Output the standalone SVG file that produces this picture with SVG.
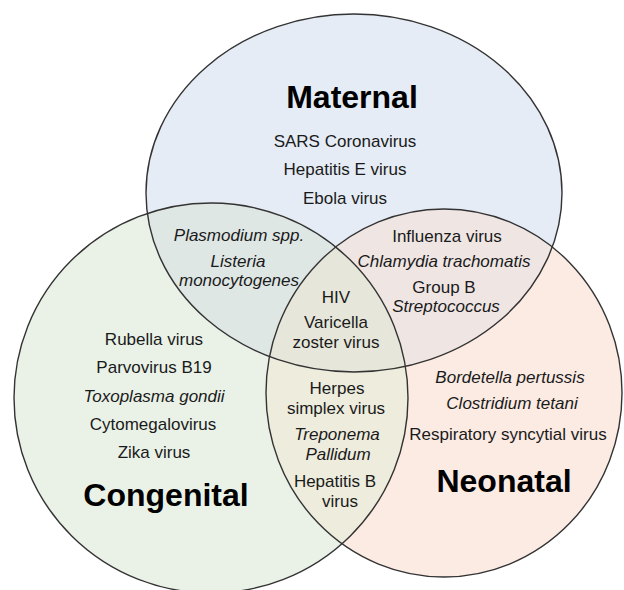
<svg xmlns="http://www.w3.org/2000/svg" xmlns:xlink="http://www.w3.org/1999/xlink" width="624" height="590" viewBox="0 0 624 590">
<style>
.outline{fill:none;stroke:#333;stroke-width:1.4}
text{font-family:"Liberation Sans",Arial,sans-serif;font-size:17px;fill:#1a1a1a;text-anchor:middle}
.it{font-style:italic}
.title{font-weight:bold;font-size:32px;fill:#000}
</style>
<defs>
<ellipse id="eT" cx="354" cy="193" rx="208" ry="179"/>
<ellipse id="eL" cx="211" cy="398" rx="197" ry="195"/>
<ellipse id="eR" cx="444" cy="393" rx="178" ry="184"/>
<clipPath id="cT"><use xlink:href="#eT"/></clipPath>
<clipPath id="cL"><use xlink:href="#eL"/></clipPath>
<clipPath id="cR"><use xlink:href="#eR"/></clipPath>
</defs>
<rect width="624" height="590" fill="#fff"/>
<g id="region-fills">
<use xlink:href="#eT" fill="#E5ECF5"/>
<use xlink:href="#eL" fill="#EAF2E8"/>
<use xlink:href="#eR" fill="#FBEBE3"/>
<g clip-path="url(#cT)"><use xlink:href="#eL" fill="#DFE7E5"/><use xlink:href="#eR" fill="#EFE6E4"/></g>
<g clip-path="url(#cL)"><use xlink:href="#eR" fill="#EDECDD"/></g>
<g clip-path="url(#cT)"><g clip-path="url(#cL)"><use xlink:href="#eR" fill="#E6E7DA"/></g></g>
</g>
<g id="maternal">
<use xlink:href="#eT" class="outline"/>
<text class="title" x="352" y="108">Maternal</text>
<text x="345" y="147">SARS Coronavirus</text>
<text x="345" y="175">Hepatitis E virus</text>
<text x="345" y="204">Ebola virus</text>
</g>
<g id="congenital">
<use xlink:href="#eL" class="outline"/>
<text x="154" y="345">Rubella virus</text>
<text x="154" y="373">Parvovirus B19</text>
<text class="it" x="154" y="402">Toxoplasma gondii</text>
<text x="153" y="430">Cytomegalovirus</text>
<text x="154" y="458">Zika virus</text>
<text class="title" x="166" y="506">Congenital</text>
</g>
<g id="neonatal">
<use xlink:href="#eR" class="outline"/>
<text class="it" x="510" y="383">Bordetella pertussis</text>
<text class="it" x="512" y="409">Clostridium tetani</text>
<text x="508" y="440">Respiratory syncytial virus</text>
<text class="title" x="504" y="492">Neonatal</text>
</g>
<g id="maternal-congenital">
<text class="it" x="239" y="241">Plasmodium spp.</text>
<text class="it" x="238" y="267">Listeria</text>
<text class="it" x="239" y="286">monocytogenes</text>
</g>
<g id="maternal-neonatal">
<text x="447" y="242">Influenza virus</text>
<text class="it" x="444" y="267">Chlamydia trachomatis</text>
<text x="444" y="293">Group B</text>
<text class="it" x="446" y="312">Streptococcus</text>
</g>
<g id="all-three">
<text x="336" y="303">HIV</text>
<text x="336" y="328">Varicella</text>
<text x="336" y="348">zoster virus</text>
</g>
<g id="congenital-neonatal">
<text x="337" y="394">Herpes</text>
<text x="336" y="414">simplex virus</text>
<text class="it" x="337" y="440">Treponema</text>
<text class="it" x="338" y="460">Pallidum</text>
<text x="335" y="487">Hepatitis B</text>
<text x="340" y="507">virus</text>
</g>
</svg>
